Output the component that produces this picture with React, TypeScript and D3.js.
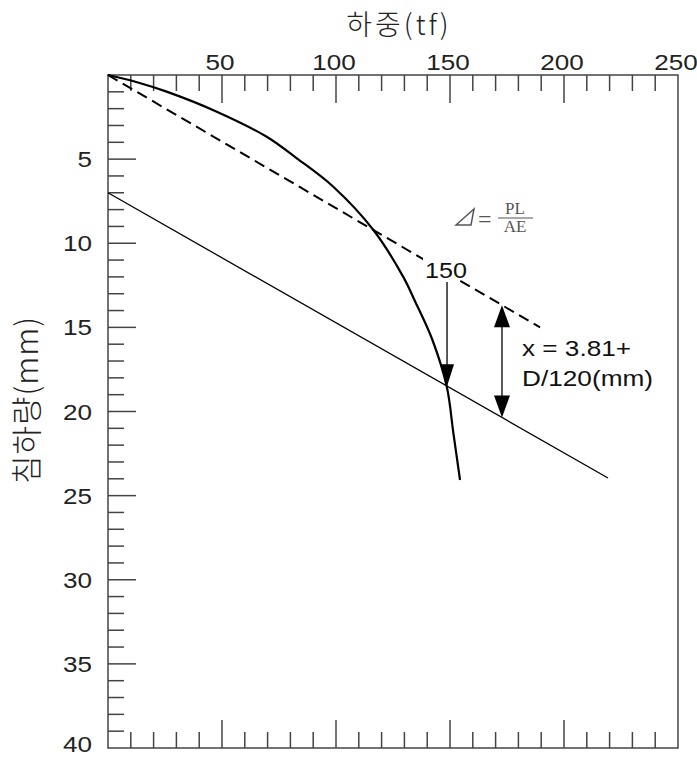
import React, { useRef, useEffect } from "react";
import * as d3 from "d3";

// load-settlement curve (load tf, settlement mm)
const curveLoad = [0, 12, 25.7, 47.7, 69.6, 82.8, 98.8, 116.4, 129.5, 134.5, 142.3, 148.6, 151.5, 154.4];
const curveSettle = [0, 0.4, 0.99, 2.18, 3.67, 4.95, 6.64, 9.21, 12.0, 13.4, 15.75, 18.53, 21.3, 24.07];

// elastic line PL/AE (dashed)
const elasticLoad = [0, 189.5];
const elasticSettle = [0, 15.0];

// offset line x = 3.81 + D/120
const offsetLoad = [0, 219.3];
const offsetSettle = [7.0, 23.95];

// annotations
const failureLoad = 148.7;
const failureArrow = [12.3, 18.5];
const gapLoad = 172.8;
const gapArrow = [13.68, 20.36];

const xTicksMinor = d3.range(10, 250, 10);
const xTickLabels = [50, 100, 150, 200, 250];
const yTicksMinor = d3.range(1, 40, 1);
const yTickLabels = [5, 10, 15, 20, 25, 30, 35, 40];

const FONT = "'Liberation Sans', Arial, sans-serif";
const KFONT = "'Noto Sans CJK KR', 'Liberation Sans', sans-serif";

const App = () => {
  const ref = useRef<SVGSVGElement>(null);

  useEffect(() => {
    const width = 697;
    const height = 759;
    const svg = d3.select(ref.current);
    svg.selectAll("*").remove();
    svg.attr("width", width).attr("height", height);

    const x = d3.scaleLinear().domain([0, 250]).range([108, 678]);
    const y = d3.scaleLinear().domain([0, 40]).range([75, 748]);

    const g = svg.append("g");
    const tickColor = "#444";

    // frame
    g.append("rect")
      .attr("x", x(0))
      .attr("y", y(0))
      .attr("width", x(250) - x(0))
      .attr("height", y(40) - y(0))
      .attr("fill", "none")
      .attr("stroke", tickColor)
      .attr("stroke-width", 1.5);

    const tickLen = (major: boolean) => (major ? 28 : 16);

    // top and bottom ticks
    xTicksMinor.forEach((v) => {
      const major = v % 50 === 0;
      g.append("line")
        .attr("x1", x(v)).attr("x2", x(v))
        .attr("y1", y(0)).attr("y2", y(0) + tickLen(major))
        .attr("stroke", tickColor).attr("stroke-width", 1.5);
      g.append("line")
        .attr("x1", x(v)).attr("x2", x(v))
        .attr("y1", y(40)).attr("y2", y(40) - tickLen(major))
        .attr("stroke", tickColor).attr("stroke-width", 1.5);
    });

    // left ticks
    yTicksMinor.forEach((v) => {
      const major = v % 5 === 0;
      g.append("line")
        .attr("x1", x(0)).attr("x2", x(0) + tickLen(major))
        .attr("y1", y(v)).attr("y2", y(v))
        .attr("stroke", tickColor).attr("stroke-width", 1.5);
    });

    g.selectAll(".xlab")
      .data(xTickLabels)
      .enter()
      .append("text")
      .attr("x", (d) => x(d) - 2)
      .attr("y", y(0) - 5)
      .attr("text-anchor", "middle")
      .attr("textLength", (d) => String(d).length * 14.5)
      .attr("lengthAdjust", "spacingAndGlyphs")
      .style("font-family", FONT)
      .style("font-size", "22px")
      .attr("fill", "#222")
      .text((d) => d);

    g.selectAll(".ylab")
      .data(yTickLabels)
      .enter()
      .append("text")
      .attr("x", x(0) - 16)
      .attr("y", (d) => Math.min(y(d) + 8, 752))
      .attr("text-anchor", "end")
      .attr("textLength", (d) => String(d).length * 14.5)
      .attr("lengthAdjust", "spacingAndGlyphs")
      .style("font-family", FONT)
      .style("font-size", "22px")
      .attr("fill", "#222")
      .text((d) => d);

    // axis titles
    g.append("text")
      .attr("x", 399)
      .attr("y", 35)
      .attr("text-anchor", "middle")
      .style("font-family", KFONT)
      .style("font-size", "28px")
      .style("font-weight", 300)
      .style("letter-spacing", "3px")
      .attr("fill", "#222")
      .text("하중(tf)");

    g.append("text")
      .attr("transform", "translate(38,400) rotate(-90)")
      .attr("text-anchor", "middle")
      .style("font-family", KFONT)
      .style("font-size", "31px")
      .style("font-weight", 300)
      .style("letter-spacing", "1px")
      .attr("fill", "#222")
      .text("침하량(mm)");

    const line = d3
      .line<[number, number]>()
      .x((d) => x(d[0]))
      .y((d) => y(d[1]));

    // offset line
    g.append("path")
      .datum(d3.zip(offsetLoad, offsetSettle) as [number, number][])
      .attr("d", line)
      .attr("fill", "none")
      .attr("stroke", "#000")
      .attr("stroke-width", 1.3);

    // elastic dashed line
    g.append("path")
      .datum(d3.zip(elasticLoad, elasticSettle) as [number, number][])
      .attr("d", line)
      .attr("fill", "none")
      .attr("stroke", "#000")
      .attr("stroke-width", 2)
      .attr("stroke-dasharray", "11,6");

    // load-settlement curve
    g.append("path")
      .datum(d3.zip(curveLoad, curveSettle) as [number, number][])
      .attr("d", line.curve(d3.curveCatmullRom.alpha(0.5)))
      .attr("fill", "none")
      .attr("stroke", "#000")
      .attr("stroke-width", 2.2);

    const head = (px: number, tipY: number, dir: number, w: number, l: number) =>
      `M${px},${tipY} L${px - w / 2},${tipY - dir * l} L${px + w / 2},${tipY - dir * l} Z`;

    // failure load arrow with label over the dashed line
    g.append("rect")
      .attr("x", x(failureLoad) - 24)
      .attr("y", y(failureArrow[0]) - 24)
      .attr("width", 48)
      .attr("height", 22)
      .attr("fill", "#fff");
    g.append("text")
      .attr("x", x(failureLoad) - 1)
      .attr("y", y(failureArrow[0]) - 4)
      .attr("text-anchor", "middle")
      .attr("textLength", 42)
      .attr("lengthAdjust", "spacingAndGlyphs")
      .style("font-family", FONT)
      .style("font-size", "22px")
      .attr("fill", "#111")
      .text("150");
    g.append("line")
      .attr("x1", x(failureLoad)).attr("x2", x(failureLoad))
      .attr("y1", y(failureArrow[0])).attr("y2", y(failureArrow[1]) - 10)
      .attr("stroke", "#000").attr("stroke-width", 1.3);
    g.append("path")
      .attr("d", head(x(failureLoad), y(failureArrow[1]), 1, 14, 22))
      .attr("fill", "#000");

    // double arrow
    g.append("line")
      .attr("x1", x(gapLoad)).attr("x2", x(gapLoad))
      .attr("y1", y(gapArrow[0]) + 10).attr("y2", y(gapArrow[1]) - 10)
      .attr("stroke", "#000").attr("stroke-width", 1.3);
    g.append("path")
      .attr("d", head(x(gapLoad), y(gapArrow[0]), -1, 16, 22))
      .attr("fill", "#000");
    g.append("path")
      .attr("d", head(x(gapLoad), y(gapArrow[1]), 1, 16, 22))
      .attr("fill", "#000");

    const noteStyle = (t: d3.Selection<SVGTextElement, unknown, null, undefined>) =>
      t.style("font-family", FONT).style("font-size", "22px").attr("fill", "#111")
        .attr("lengthAdjust", "spacingAndGlyphs");
    noteStyle(g.append("text").attr("x", 522).attr("y", 356).attr("textLength", 109)).text("x = 3.81+");
    noteStyle(g.append("text").attr("x", 522).attr("y", 386).attr("textLength", 131)).text("D/120(mm)");

    // formula
    const serif = "'Liberation Serif', 'DejaVu Serif', serif";
    const fg = g.append("g").attr("fill", "#555").style("font-family", serif);
    fg.append("path")
      .attr("d", "M456,225 L474,209 L471,225 Z")
      .attr("fill", "none")
      .attr("stroke", "#555")
      .attr("stroke-width", 1.5);
    fg.append("text").attr("x", 478).attr("y", 227).style("font-size", "24px").text("=");
    fg.append("text").attr("x", 515).attr("y", 214).attr("text-anchor", "middle").style("font-size", "17px").text("PL");
    fg.append("line").attr("x1", 498).attr("x2", 533).attr("y1", 218).attr("y2", 218).attr("stroke", "#555").attr("stroke-width", 1.1);
    fg.append("text").attr("x", 515).attr("y", 232).attr("text-anchor", "middle").style("font-size", "17px").text("AE");
  }, []);

  return (
    <div>
      <svg ref={ref} style={{ position: "absolute", left: 0, top: 0, background: "#fff" }}></svg>
    </div>
  );
};

export default App;
